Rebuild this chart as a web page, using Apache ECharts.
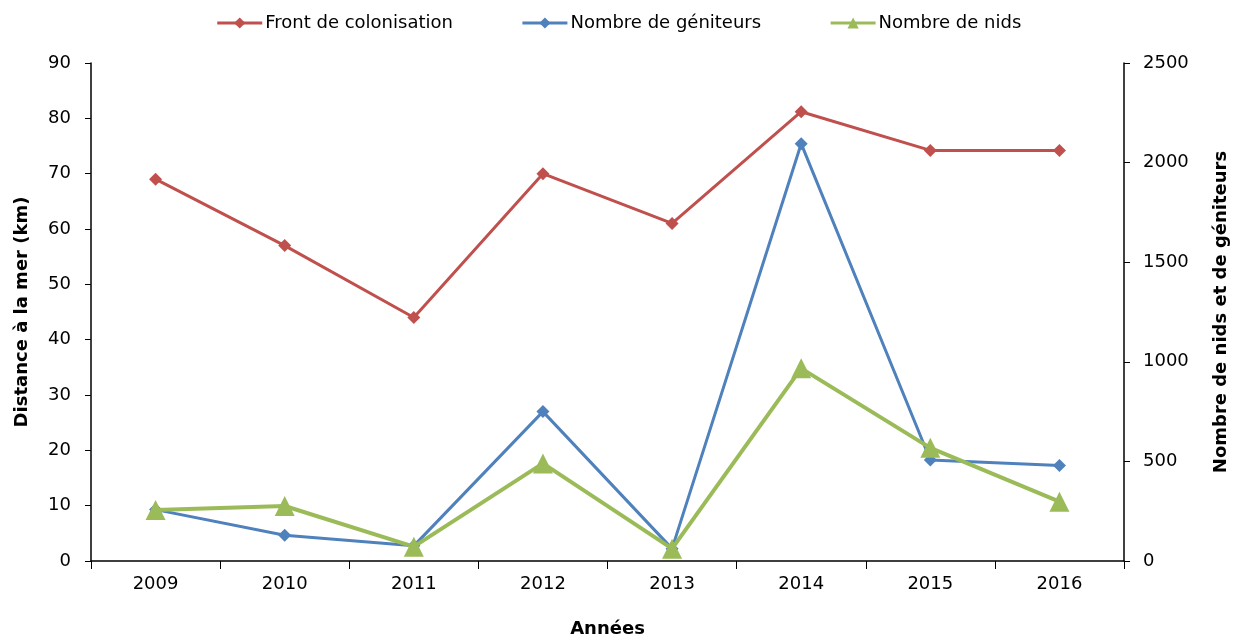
<!DOCTYPE html>
<html>
<head>
<meta charset="utf-8">
<script src="https://cdn.jsdelivr.net/npm/echarts@6/dist/echarts.min.js"></script>
<style>
	html, body { margin: 0; padding: 0; background: #fff; }
	#chart { width: 1237px; height: 638px; }
</style>
</head>
<body>
<div id="chart"></div>
<script>
	// années
	var annees = ['2009', '2010', '2011', '2012', '2013', '2014', '2015', '2016'];
	// distance à la mer (km), axe gauche
	var frontColonisation = [69, 57, 44, 70, 61, 81.2, 74.2, 74.2];
	// axe droit
	var nombreGeniteurs = [258, 129, 76, 750, 62, 2095, 507, 480];
	var nombreNids = [256, 276, 72, 490, 62, 967, 568, 298];

	var police = '"DejaVu Sans", "Liberation Sans", sans-serif';

	var myChart = echarts.init(document.getElementById('chart'));

	var option = {
		animation: false,
		textStyle: { fontFamily: police },
		legend: {
			top: 9,
			left: 'center',
			itemGap: 68,
			itemWidth: 45,
			itemHeight: 14,
			lineStyle: { width: 3 },
			textStyle: { fontSize: 18, color: '#000', fontFamily: police, padding: [0, 0, 0, -2] },
			data: ['Front de colonisation', 'Nombre de géniteurs', 'Nombre de nids']
		},
		grid: {
			left: 91,
			right: 113,
			top: 63,
			bottom: 77,
			outerBoundsMode: 'none',
			containLabel: false
		},
		xAxis: {
			type: 'category',
			data: annees,
			boundaryGap: true,
			name: 'Années',
			nameLocation: 'middle',
			nameGap: 59,
			nameTextStyle: { fontSize: 18, fontWeight: 'bold', color: '#000' },
			axisLine: { lineStyle: { color: '#000', width: 1.5 } },
			axisTick: { show: true, length: 8, lineStyle: { color: '#000' } },
			axisLabel: { fontSize: 18, color: '#000', margin: 14 }
		},
		yAxis: [
			{
				type: 'value',
				min: 0,
				max: 90,
				interval: 10,
				name: 'Distance à la mer (km)',
				nameLocation: 'middle',
				nameGap: 60,
				nameTextStyle: { fontSize: 18, fontWeight: 'bold', color: '#000' },
				axisLine: { show: true, lineStyle: { color: '#000', width: 1.5 } },
				axisTick: { show: true, length: 6, lineStyle: { color: '#000' } },
				axisLabel: { fontSize: 18, color: '#000', margin: 20 },
				splitLine: { show: false }
			},
			{
				type: 'value',
				min: 0,
				max: 2500,
				interval: 500,
				position: 'right',
				name: 'Nombre de nids et de géniteurs',
				nameLocation: 'middle',
				nameGap: 88,
				nameTextStyle: { fontSize: 18, fontWeight: 'bold', color: '#000' },
				axisLine: { show: true, lineStyle: { color: '#000', width: 1.5 } },
				axisTick: { show: true, length: 6, lineStyle: { color: '#000' } },
				axisLabel: {
					fontSize: 18,
					color: '#000',
					margin: 19,
					formatter: function (v) { return String(v); }
				},
				splitLine: { show: false }
			}
		],
		series: [
			{
				name: 'Front de colonisation',
				type: 'line',
				yAxisIndex: 0,
				data: frontColonisation,
				symbol: 'diamond',
				symbolSize: 13,
				color: '#C0504D',
				lineStyle: { width: 3, color: '#C0504D' },
				itemStyle: { color: '#C0504D' },
				z: 3
			},
			{
				name: 'Nombre de géniteurs',
				type: 'line',
				yAxisIndex: 1,
				data: nombreGeniteurs,
				symbol: 'diamond',
				symbolSize: 13,
				color: '#4F81BD',
				lineStyle: { width: 3, color: '#4F81BD' },
				itemStyle: { color: '#4F81BD' },
				z: 4
			},
			{
				name: 'Nombre de nids',
				type: 'line',
				yAxisIndex: 1,
				data: nombreNids,
				symbol: 'triangle',
				symbolSize: 20,
				color: '#9BBB59',
				lineStyle: { width: 4, color: '#9BBB59' },
				itemStyle: { color: '#9BBB59' },
				z: 5
			}
		]
	};

	myChart.setOption(option, { notMerge: true });
</script>
</body>
</html>
